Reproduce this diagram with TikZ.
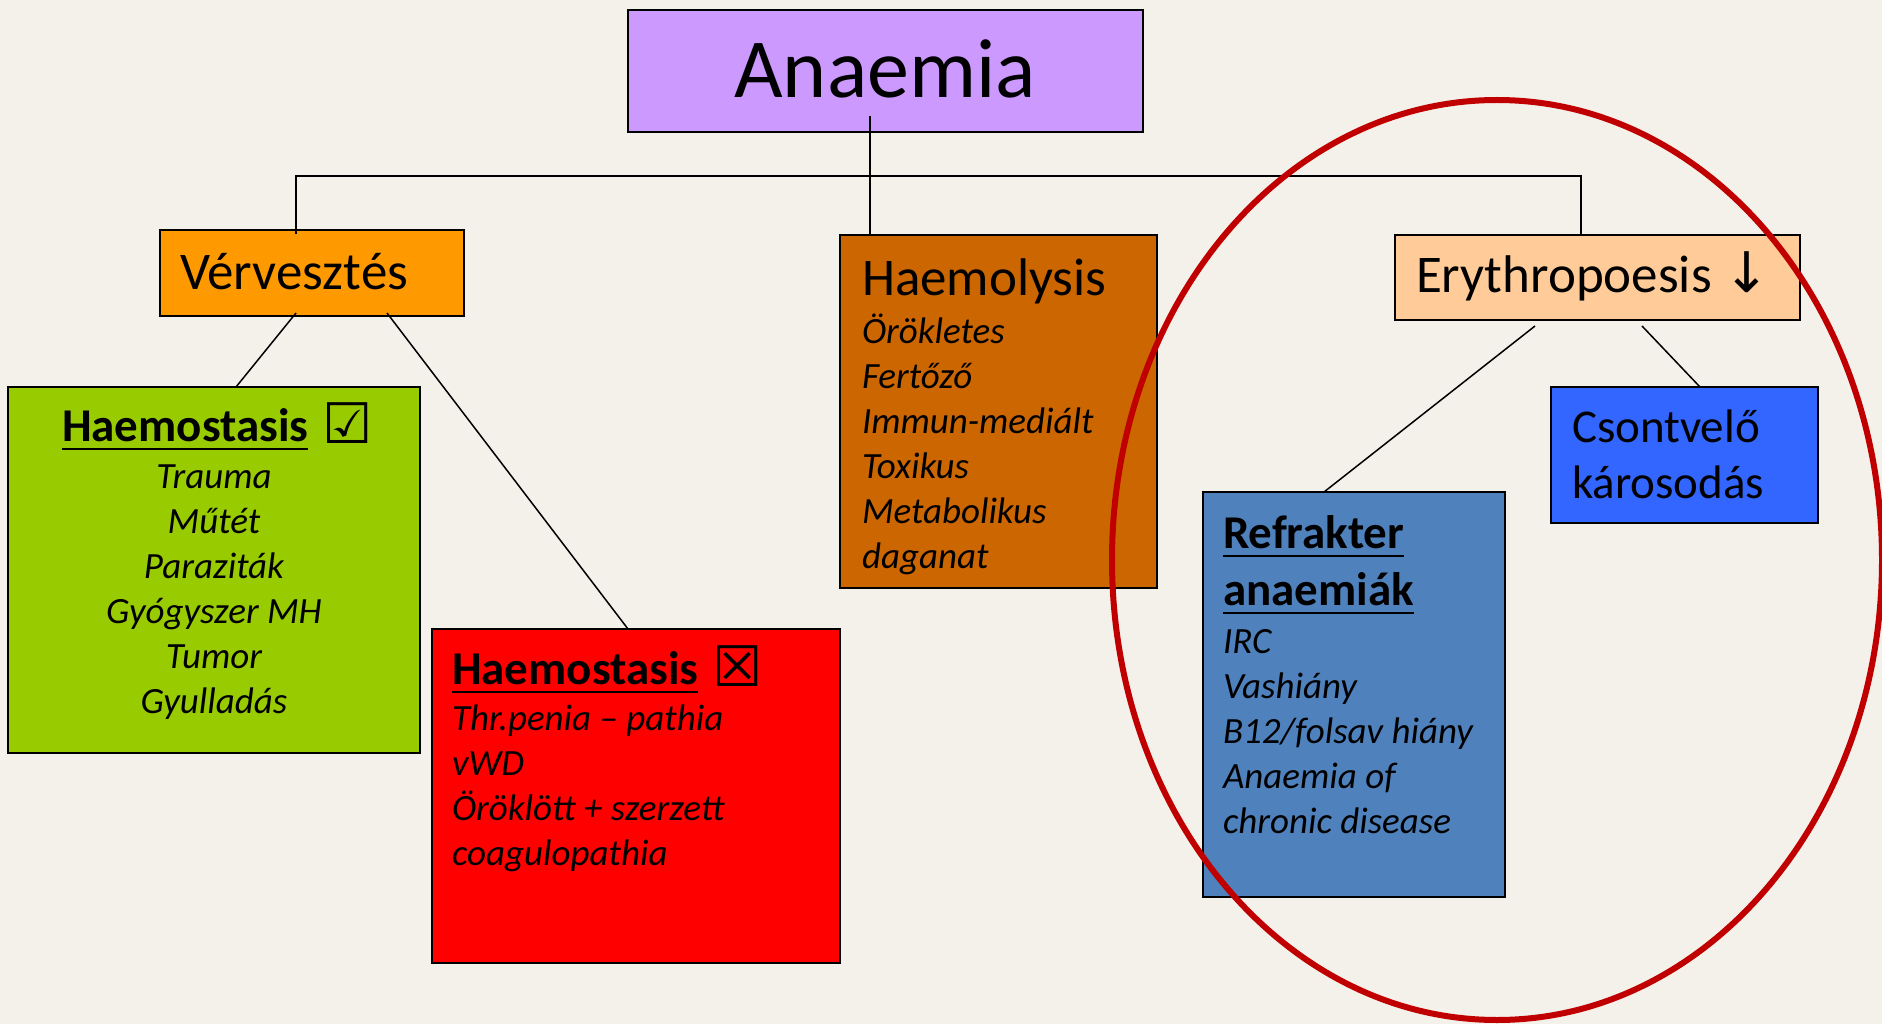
\documentclass[tikz,border=0pt]{standalone}
\usepackage{fontspec}
\setmainfont{Carlito}
\newfontfamily\symf{DejaVu Sans}
\usetikzlibrary{calc}
\definecolor{bg}{HTML}{F4F0EA}
\definecolor{cAnaemia}{HTML}{CC99FF}
\definecolor{cVerv}{HTML}{FF9900}
\definecolor{cGreen}{HTML}{99CC00}
\definecolor{cRed}{HTML}{FF0000}
\definecolor{cHaemo}{HTML}{CC6600}
\definecolor{cEry}{HTML}{FFCC99}
\definecolor{cRefr}{HTML}{4F81BD}
\definecolor{cCsont}{HTML}{3366FF}
\definecolor{cRing}{HTML}{C00000}
\newcommand\fsz[1]{\fontsize{#1}{#1}\selectfont}
\begin{document}
\begin{tikzpicture}[x=1pt,y=-1pt,
  box/.style={draw=black,line width=1.6pt,inner sep=0pt,outer sep=0pt,anchor=north west},
  txt/.style={inner sep=0pt,outer sep=0pt,anchor=base west},
  item/.style={txt,font=\fsz{37}\itshape},
  head/.style={txt,font=\fsz{47}\bfseries},
  big/.style={txt,font=\fsz{53}},
  sym/.style={txt,font=\fsz{56}\symf},
  conn/.style={draw=black,line width=1.5pt},
  uline/.style={draw=black,line width=2.5pt}]
\fill[bg] (0,0) rectangle (1882,1024);
\useasboundingbox (0,0) rectangle (1882,1024);

% boxes
\node[box,fill=cAnaemia,minimum width=515pt,minimum height=122pt] (anaemia) at (628,10) {};
\node[box,fill=cVerv,minimum width=304pt,minimum height=86pt] (verv) at (160,230) {};
\node[box,fill=cGreen,minimum width=412pt,minimum height=366pt] (green) at (8,387) {};
\node[box,fill=cRed,minimum width=408pt,minimum height=334pt] (red) at (432,629) {};
\node[box,fill=cHaemo,minimum width=317pt,minimum height=353pt] (haemo) at (840,235) {};
\node[box,fill=cEry,minimum width=405pt,minimum height=85pt] (ery) at (1395,235) {};
\node[box,fill=cRefr,minimum width=302pt,minimum height=405pt] (refr) at (1203,492) {};
\node[box,fill=cCsont,minimum width=267pt,minimum height=136pt] (csont) at (1551,387) {};

% connectors
\coordinate (jc) at (870,176);
\coordinate (jl) at (296,176);
\coordinate (jr) at (1581,176);
\draw[conn] ($(anaemia.south -| jc)+(0,-16)$) -- (haemo.north -| jc);
\draw[conn] ($(verv.north -| jl)+(0,4)$) -- (jl) -- (jr) -- ($(ery.north -| jr)+(0,1)$);
\draw[conn] ($(verv.south west)+(136,-3)$) -- ($(green.north west)+(228,0)$);
\draw[conn] ($(verv.south west)+(227,-3)$) -- ($(red.north west)+(196,0)$);
\draw[conn] ($(ery.south west)+(140,6)$) -- ($(refr.north west)+(121,0)$);
\draw[conn] ($(ery.south west)+(247,6)$) -- ($(csont.north west)+(149,0)$);

% texts
\node[txt,font=\fsz{84},anchor=base] (tAnaemia) at (885,98) {Anaemia};
\node[big] (tVerv) at (180,290) {Vérvesztés};

\node[head] (gHead) at (62,441) {Haemostasis};
\draw[uline] ([yshift=-8pt]gHead.base west) -- ([yshift=-8pt]gHead.base east);
\node[sym] (gCheck) at (322,443) {☑};
\foreach \t [count=\i] in {Trauma,Műtét,Paraziták,Gyógyszer MH,Tumor,Gyulladás}
  \node[item,anchor=base] (g\i) at (214,443+45*\i) {\t};

\node[head] (rHead) at (452,684) {Haemostasis};
\draw[uline] ([yshift=-8pt]rHead.base west) -- ([yshift=-8pt]rHead.base east);
\node[sym] (rCross) at (712,686) {☒};
\foreach \t [count=\i] in {Thr.penia – pathia,vWD,Öröklött + szerzett,coagulopathia}
  \node[item] (r\i) at (452,685+45*\i) {\t};

\node[big] (hHead) at (862,296) {Haemolysis};
\foreach \t [count=\i] in {Örökletes,Fertőző,Immun-mediált,Toxikus,Metabolikus,daganat}
  \node[item] (h\i) at (862,298+45*\i) {\t};

\node[big] (eHead) at (1416,293) {Erythropoesis {\symf\fsz{56}↓}};

\node[head] (fHead1) at (1223,548) {Refrakter};
\draw[uline] ([yshift=-8pt]fHead1.base west) -- ([yshift=-8pt]fHead1.base east);
\node[head] (fHead2) at (1223,605) {anaemiák};
\draw[uline] ([yshift=-8pt]fHead2.base west) -- ([yshift=-8pt]fHead2.base east);
\foreach \t [count=\i] in {IRC,Vashiány,B12/folsav hiány,Anaemia of,chronic disease}
  \node[item] (f\i) at (1223,608+45*\i) {\t};

\node[txt,font=\fsz{47}] (c1) at (1572,442) {Csontvelő};
\node[txt,font=\fsz{47}] (c2) at (1572,498) {károsodás};

% ring
\draw[cRing,line width=6pt] (1497,560) ellipse [x radius=385, y radius=460];
\end{tikzpicture}
\end{document}
